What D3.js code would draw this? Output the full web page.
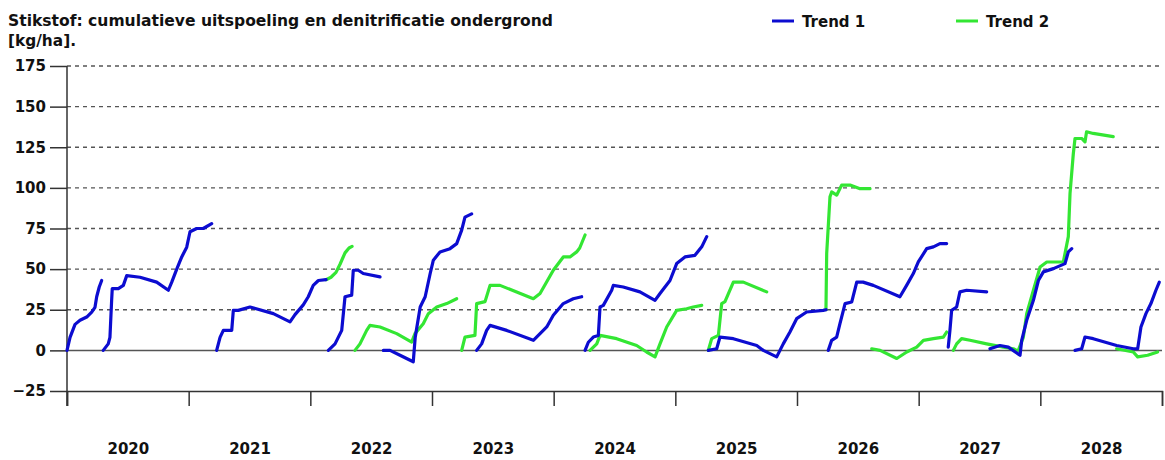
<!DOCTYPE html>
<html><head><meta charset="utf-8">
<script src="https://cdn.jsdelivr.net/npm/d3@7"></script>
<style>
html,body{margin:0;padding:0;background:#fff;}
svg{display:block;}
text{font-family:"DejaVu Sans",sans-serif;font-weight:bold;fill:#111;}
</style></head>
<body><svg id="c" width="1165" height="460"></svg>
<script>
const titleLines = ["Stikstof: cumulatieve uitspoeling en denitrificatie ondergrond", "[kg/ha]."];
const seriesNames = ["Trend 1", "Trend 2"];
const years = [2020, 2021, 2022, 2023, 2024, 2025, 2026, 2027, 2028];
const yTicks = [-25, 0, 25, 50, 75, 100, 125, 150, 175];

// Trend 1: runs of [decimal year, kg/ha]
const trend1 = [
 [[2020.000,0],[2020.025,8],[2020.066,16],[2020.107,18.5],[2020.162,20.5],[2020.203,23.5],[2020.230,26.5],[2020.244,33],[2020.265,39],[2020.285,43]],
 [[2020.298,0],[2020.339,4],[2020.353,8],[2020.367,31],[2020.372,38],[2020.422,38],[2020.463,40],[2020.491,46],[2020.600,45],[2020.737,42],[2020.833,37],[2020.861,42],[2020.902,50],[2020.943,57.5],[2020.984,63.5],[2021.011,73],[2021.066,75],[2021.120,75],[2021.189,78]],
 [[2021.230,0],[2021.258,8],[2021.285,12.3],[2021.354,12.3],[2021.367,24.6],[2021.408,24.6],[2021.504,26.7],[2021.696,22.6],[2021.833,17.5],[2021.874,22],[2021.942,28],[2021.983,33],[2022.024,40],[2022.066,43],[2022.129,43.5]],
 [[2022.148,0],[2022.203,4],[2022.258,12.3],[2022.285,33],[2022.340,34],[2022.353,49.3],[2022.394,49.3],[2022.435,47.3],[2022.573,45.2]],
 [[2022.600,0],[2022.655,0],[2022.737,-3],[2022.846,-7],[2022.862,8],[2022.903,26.7],[2022.944,33],[2022.985,47.3],[2023.011,55.5],[2023.066,60.6],[2023.148,62.6],[2023.203,65.7],[2023.244,74],[2023.271,82],[2023.326,84]],
 [[2023.367,0],[2023.408,4],[2023.449,12.3],[2023.477,15.4],[2023.614,12.3],[2023.833,6.2],[2023.943,14.4],[2023.997,21.6],[2024.079,28.8],[2024.161,31.8],[2024.230,33]],
 [[2024.258,0],[2024.285,5],[2024.326,8.2],[2024.367,9.2],[2024.381,26.7],[2024.408,27.7],[2024.477,37],[2024.490,40],[2024.572,39],[2024.709,36],[2024.833,30.8],[2024.874,35],[2024.956,43],[2025.011,53.4],[2025.079,57.5],[2025.161,58.5],[2025.217,63.7],[2025.258,70]],
 [[2025.271,0],[2025.340,1],[2025.367,8.2],[2025.477,7.2],[2025.669,3],[2025.723,0],[2025.833,-4],[2025.887,4],[2025.942,11.3],[2025.997,19.5],[2026.079,23.6],[2026.216,24.6],[2026.238,25]],
 [[2026.257,0],[2026.285,6.2],[2026.326,8.2],[2026.353,16.4],[2026.381,24.6],[2026.395,28.8],[2026.450,29.8],[2026.491,42],[2026.543,42],[2026.627,40],[2026.846,33],[2026.901,40],[2026.956,47.3],[2026.997,54.4],[2027.066,62.6],[2027.121,63.7],[2027.175,65.7],[2027.230,65.7]],
 [[2027.243,2],[2027.257,12.3],[2027.271,24.6],[2027.312,26.7],[2027.339,36],[2027.394,37],[2027.559,36]],
 [[2027.586,1],[2027.668,3],[2027.737,2],[2027.833,-3],[2027.847,6.2],[2027.888,18.5],[2027.943,30.8],[2027.984,43],[2028.025,48.3],[2028.107,50.3],[2028.203,53.4],[2028.230,60.6],[2028.258,62.6]],
 [[2028.285,0],[2028.340,1],[2028.367,8.2],[2028.435,7.2],[2028.627,3],[2028.764,1],[2028.800,1],[2028.827,14.4],[2028.868,22.6],[2028.909,28.8],[2028.950,37],[2028.978,42]]
];

// Trend 2: runs of [decimal year, kg/ha]
const trend2 = [
 [[2022.129,43.5],[2022.170,45],[2022.211,48],[2022.244,53],[2022.285,60],[2022.318,63],[2022.343,64]],
 [[2022.367,0],[2022.408,4],[2022.463,12.3],[2022.490,15.4],[2022.573,14.4],[2022.710,10.3],[2022.833,5.1],[2022.860,10.3],[2022.928,16.4],[2022.970,22.6],[2023.039,26.7],[2023.121,28.8],[2023.203,31.8]],
 [[2023.244,0],[2023.271,8.2],[2023.353,9.2],[2023.367,28.8],[2023.436,30],[2023.477,40],[2023.559,40],[2023.833,31.8],[2023.888,35],[2023.997,49.3],[2024.079,57.5],[2024.134,57.5],[2024.189,60.6],[2024.214,63],[2024.258,71]],
 [[2024.299,0],[2024.354,4],[2024.381,9.2],[2024.518,7.2],[2024.682,3],[2024.764,-1],[2024.833,-4],[2024.874,4],[2024.929,14.4],[2025.011,24.6],[2025.093,25.6],[2025.147,26.7],[2025.217,27.7]],
 [[2025.271,0],[2025.299,7.2],[2025.354,9.2],[2025.381,28.8],[2025.408,30],[2025.477,42],[2025.559,42],[2025.751,36]],
 [[2026.238,25],[2026.244,59.5],[2026.271,94.5],[2026.285,97.5],[2026.326,95.5],[2026.367,101.7],[2026.436,101.7],[2026.518,99.5],[2026.600,99.5]],
 [[2026.614,1],[2026.683,0],[2026.820,-5],[2026.902,-1],[2026.984,2],[2027.039,6.2],[2027.121,7.2],[2027.203,8.2],[2027.230,11.3]],
 [[2027.285,0],[2027.312,4],[2027.353,7.2],[2027.422,6.2],[2027.559,4],[2027.696,2],[2027.778,1],[2027.806,0]],
 [[2027.819,0],[2027.860,8],[2027.888,22.6],[2027.943,37],[2027.998,51.3],[2028.053,54.4],[2028.189,54.4],[2028.230,70],[2028.244,96.5],[2028.271,121],[2028.285,130.4],[2028.340,130.4],[2028.367,128.3],[2028.380,134.5],[2028.435,133.5],[2028.599,131.5]],
 [[2028.627,1],[2028.764,-1],[2028.800,-4],[2028.882,-3],[2028.964,-1]]
];

const colors = ["#0c0cd0", "#33e633"];

const svg = d3.select("#c");
const plotLeft = 67, plotRight = 1162, plotTop = 66, plotBottom = 391;
const x = d3.scaleLinear().domain([2020, 2029]).range([plotLeft, plotRight]);
const y = d3.scaleLinear().domain([-25, 175]).range([plotBottom, plotTop]);

// title
svg.append("text").attr("x", 8).attr("y", 26).style("font-size", "15px").text(titleLines[0])
  .attr("textLength", 545).attr("lengthAdjust", "spacingAndGlyphs");
svg.append("text").attr("x", 8).attr("y", 46).style("font-size", "15px").text(titleLines[1])
  .attr("textLength", 68).attr("lengthAdjust", "spacingAndGlyphs");

// legend
const legX = [772, 956];
seriesNames.forEach((n, i) => {
  svg.append("line").attr("x1", legX[i]).attr("x2", legX[i] + 22).attr("y1", 21).attr("y2", 21)
    .attr("stroke", colors[i]).attr("stroke-width", 3);
  svg.append("text").attr("x", legX[i] + 30).attr("y", 27).style("font-size", "15px").text(n);
});

// gridlines
svg.append("g").selectAll("line").data(yTicks.filter(v => v > 0)).join("line")
  .attr("x1", plotLeft).attr("x2", plotRight).attr("y1", d => y(d)).attr("y2", d => y(d))
  .attr("stroke", "#555").attr("stroke-width", 1.3).attr("stroke-dasharray", "4,4");
svg.append("line").attr("x1", plotLeft).attr("x2", plotRight).attr("y1", y(0)).attr("y2", y(0))
  .attr("stroke", "#555").attr("stroke-width", 1.5);

// y axis
const ya = svg.append("g").attr("transform", `translate(${plotLeft},0)`)
  .call(d3.axisLeft(y).tickValues(yTicks).tickSize(17).tickPadding(4).tickFormat(d3.format("d")));
ya.select(".domain").remove();
ya.selectAll(".tick line").attr("stroke", "#333").attr("stroke-width", 1.5);
ya.selectAll("text").style("font-size", "15px").style("font-family", "DejaVu Sans").style("font-weight", "bold").attr("fill", "#111");
svg.append("line").attr("x1", plotLeft).attr("x2", plotLeft).attr("y1", plotTop).attr("y2", plotBottom + 15)
  .attr("stroke", "#333").attr("stroke-width", 1.5);

// x axis
const xa = svg.append("g").attr("transform", `translate(0,${plotBottom})`)
  .call(d3.axisBottom(x).tickValues(d3.range(2020, 2030)).tickSize(15).tickFormat(""));
xa.select(".domain").attr("stroke", "#333").attr("stroke-width", 1.5);
xa.selectAll(".tick line").attr("stroke", "#333").attr("stroke-width", 1.5);
const xl = svg.append("g").attr("transform", `translate(0,${plotBottom})`)
  .call(d3.axisBottom(x).tickValues(years.map(v => v + 0.5)).tickSize(0).tickPadding(52).tickFormat(d => String(Math.floor(d))));
xl.select(".domain").remove();
xl.selectAll("text").style("font-size", "15px").style("font-family", "DejaVu Sans").style("font-weight", "bold").attr("fill", "#111");

// lines
const line = d3.line().x(d => x(d[0])).y(d => y(d[1]));
[trend2, trend1].forEach((segs, k) => {
  const c = k === 0 ? colors[1] : colors[0];
  svg.append("g").selectAll("path").data(segs).join("path")
    .attr("d", line).attr("fill", "none").attr("stroke", c).attr("stroke-width", 3.2)
    .attr("stroke-linejoin", "round").attr("stroke-linecap", "round");
});
</script></body></html>
